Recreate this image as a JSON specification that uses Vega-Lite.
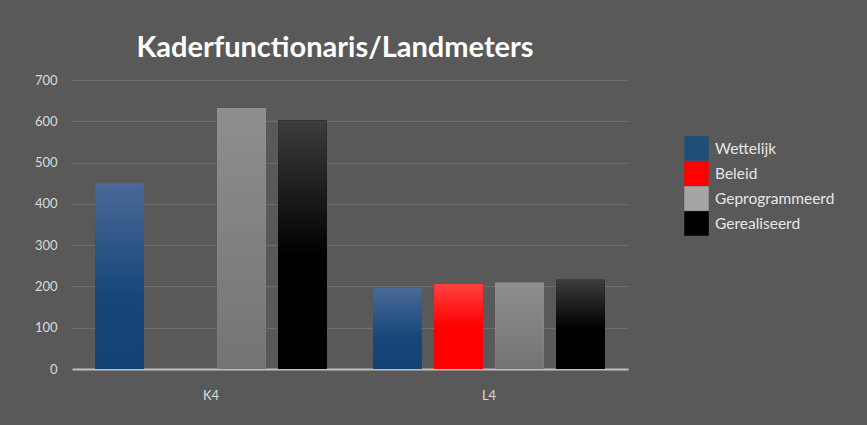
{
  "$schema": "https://vega.github.io/schema/vega-lite/v6.json",
  "width": 556,
  "height": 289,
  "autosize": "none",
  "padding": {"left": 72, "top": 80, "right": 239, "bottom": 56},
  "background": "#595959",
  "title": {
    "text": "Kaderfunctionaris/Landmeters",
    "font": "Lato",
    "fontSize": 29,
    "fontWeight": "bold",
    "color": "#ffffff",
    "anchor": "middle",
    "dx": -15,
    "offset": 11
  },
  "data": {
    "values": [
      {"groep": "K4", "reeks": "Wettelijk", "waarde": 450},
      {"groep": "K4", "reeks": "Geprogrammeerd", "waarde": 632},
      {"groep": "K4", "reeks": "Gerealiseerd", "waarde": 602},
      {"groep": "L4", "reeks": "Wettelijk", "waarde": 198},
      {"groep": "L4", "reeks": "Beleid", "waarde": 206},
      {"groep": "L4", "reeks": "Geprogrammeerd", "waarde": 209},
      {"groep": "L4", "reeks": "Gerealiseerd", "waarde": 216}
    ]
  },
  "encoding": {
    "x": {
      "field": "groep",
      "type": "nominal",
      "scale": {"paddingInner": 0, "paddingOuter": 0},
      "axis": {
        "title": null,
        "labelAngle": 0,
        "labelFont": "Lato",
        "labelFontSize": 13,
        "labelColor": "#d9d9d9",
        "labelPadding": 20,
        "ticks": false,
        "domainColor": "#bfbfbf",
        "domainWidth": 2
      }
    },
    "xOffset": {
      "field": "reeks",
      "type": "nominal",
      "scale": {
        "domain": ["Wettelijk", "Beleid", "Geprogrammeerd", "Gerealiseerd"],
        "paddingInner": 0.2,
        "paddingOuter": 0.38
      }
    },
    "y": {
      "field": "waarde",
      "type": "quantitative",
      "scale": {"domain": [0, 700]},
      "axis": {
        "title": null,
        "values": [0, 100, 200, 300, 400, 500, 600, 700],
        "labelFont": "Lato",
        "labelFontSize": 13,
        "labelColor": "#d9d9d9",
        "labelPadding": 15,
        "ticks": false,
        "domain": false,
        "gridColor": "#6e6e6e",
        "gridWidth": 1
      }
    }
  },
  "layer": [
    {
      "mark": {"type": "bar"},
      "encoding": {
        "fill": {
          "field": "reeks",
          "type": "nominal",
          "scale": {
            "domain": ["Wettelijk", "Beleid", "Geprogrammeerd", "Gerealiseerd"],
            "range": ["#1f4e79", "#ff0000", "#a5a5a5", "#000000"]
          },
          "legend": {
            "title": null,
            "orient": "none",
            "legendX": 612,
            "legendY": 56,
            "symbolType": "square",
            "symbolSize": 600,
            "symbolStrokeWidth": 0,
            "symbolOpacity": 1,
            "rowPadding": 0,
            "labelFont": "Lato",
            "labelFontSize": 15.5,
            "labelColor": "#e6e6e6",
            "labelOffset": 6
          }
        }
      }
    },
    {
      "mark": {"type": "bar", "opacity": 1},
      "encoding": {
        "fill": {
          "condition": [
            {"test": "datum.reeks === 'Wettelijk'", "value": {"gradient": "linear", "x1": 0, "y1": 0, "x2": 0, "y2": 1, "stops": [{"offset": 0, "color": "#4a6a98"}, {"offset": 0.6, "color": "#174779"}, {"offset": 1, "color": "#124274"}]}},
            {"test": "datum.reeks === 'Beleid'", "value": {"gradient": "linear", "x1": 0, "y1": 0, "x2": 0, "y2": 1, "stops": [{"offset": 0, "color": "#ff4040"}, {"offset": 0.5, "color": "#ff0000"}, {"offset": 1, "color": "#ff0000"}]}},
            {"test": "datum.reeks === 'Geprogrammeerd'", "value": {"gradient": "linear", "x1": 0, "y1": 0, "x2": 0, "y2": 1, "stops": [{"offset": 0, "color": "#8e8e8e"}, {"offset": 1, "color": "#747474"}]}}
          ],
          "value": {"gradient": "linear", "x1": 0, "y1": 0, "x2": 0, "y2": 1, "stops": [{"offset": 0, "color": "#3c3c3c"}, {"offset": 0.55, "color": "#000000"}, {"offset": 1, "color": "#000000"}]}
        }
      }
    }
  ],
  "config": {
    "view": {"stroke": null},
    "axis": {"gridColor": "#6e6e6e"}
  }
}
